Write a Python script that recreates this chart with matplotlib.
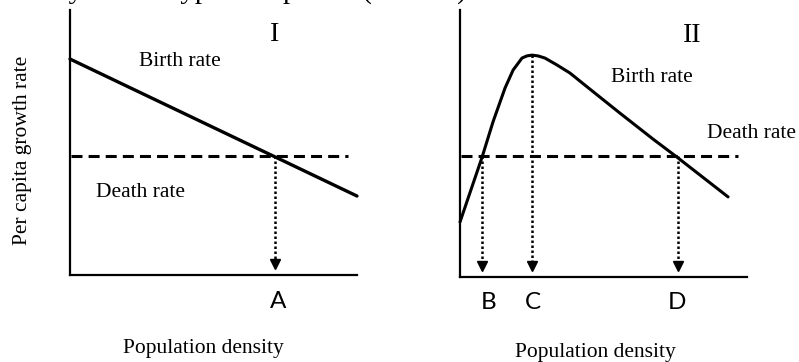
import matplotlib
matplotlib.use("Agg")
import matplotlib.pyplot as plt

# ---- data (arbitrary units 0..10) ----
birth1_x = [0.0, 10.0]
birth1_y = [8.15, 2.98]
death1 = 4.49
death1_xmax = 9.69
point_A = 7.14

birth2_x = [0.0, 0.38, 0.77, 1.15, 1.57, 1.85, 2.16, 2.33, 2.51, 2.72, 2.96, 3.38,
            3.83, 4.43, 5.57, 6.72, 7.56, 8.36, 9.34]
birth2_y = [2.06, 3.26, 4.49, 5.81, 7.08, 7.75, 8.20, 8.28, 8.31, 8.28, 8.20, 7.94,
            7.64, 7.12, 6.14, 5.17, 4.49, 3.82, 3.00]
death2 = 4.53
death2_xmax = 9.69
point_B = 0.77
point_C = 2.51
peak_C = 8.31
point_D = 7.60

letters1 = ["A"]
letters2 = ["B", "C", "D"]
label_x2 = [1.01, 2.53, 7.56]

W, H = 799, 362
fig = plt.figure(figsize=(W / 100, H / 100), dpi=100)
serif = "Liberation Serif"
sans = "Lato"
FS = 15.5

def make_ax(left_px, right_px, top_px, bottom_px):
    ax = fig.add_axes([left_px / W, 1 - bottom_px / H,
                       (right_px - left_px) / W, (bottom_px - top_px) / H])
    ax.set_xlim(0, 10)
    ax.set_ylim(0, 10)
    for s in ["top", "right"]:
        ax.spines[s].set_visible(False)
    for s in ["left", "bottom"]:
        ax.spines[s].set_linewidth(1.6)
    ax.set_xticks([])
    ax.set_yticks([])
    ax.patch.set_alpha(0)
    return ax

DASH = (0, (3.6, 2.0))

def drop_arrow(ax, x, ytop):
    ax.plot([x, x], [ytop, 0.4], color="black", lw=1.8, ls=(0, (1, 1)), clip_on=False)
    ax.plot([x], [0.4], marker="v", color="black", ms=6.5, clip_on=False)

# ---- Panel I ----
ax1 = make_ax(70, 357, 10, 275)
ax1.plot(birth1_x, birth1_y, color="black", lw=2.4, solid_capstyle="round", clip_on=False)
ax1.plot([0.05, death1_xmax], [death1, death1], color="black", lw=2.2, ls=DASH, clip_on=False)
drop_arrow(ax1, point_A, death1)
ax1.text(7.25, -1.0, letters1[0], ha="center", va="center", fontsize=17.5, family=sans)
ax1.text(7.14, 9.06, "I", ha="center", va="center", fontsize=20, family=serif)
ax1.text(3.83, 8.04, "Birth rate", ha="center", va="center", fontsize=FS, family=serif)
ax1.text(2.44, 3.13, "Death rate", ha="center", va="center", fontsize=FS, family=serif)
ax1.text(-1.64, 4.72, "Per capita growth rate", rotation=90, ha="center", va="center",
         fontsize=FS, family=serif)
ax1.text(4.63, -2.79, "Population density", ha="center", va="center", fontsize=FS, family=serif)

# ---- Panel II ----
ax2 = make_ax(460, 747, 10, 277)
ax2.plot(birth2_x, birth2_y, color="black", lw=2.2, solid_joinstyle="round",
         solid_capstyle="round", clip_on=False)
ax2.plot([0.05, death2_xmax], [death2, death2], color="black", lw=2.2, ls=DASH, clip_on=False)
for x, y in [(point_B, death2), (point_C, peak_C), (point_D, death2)]:
    drop_arrow(ax2, x, y)
for x, lab in zip(label_x2, letters2):
    ax2.text(x, -0.94, lab, ha="center", va="center", fontsize=17.5, family=sans)
ax2.text(8.08, 9.03, "II", ha="center", va="center", fontsize=20, family=serif)
ax2.text(6.69, 7.49, "Birth rate", ha="center", va="center", fontsize=FS, family=serif)
ax2.text(10.17, 5.39, "Death rate", ha="center", va="center", fontsize=FS, family=serif)
ax2.text(4.70, -2.81, "Population density", ha="center", va="center", fontsize=FS, family=serif)

# caption from the source page, cut off at the very top
fig.text(0.0, 1 + 1.5 / H, "density of two types of species (I and II).",
         ha="left", va="baseline", fontsize=20.8, family=serif)

fig.savefig("out.png", dpi=100, facecolor="white")
